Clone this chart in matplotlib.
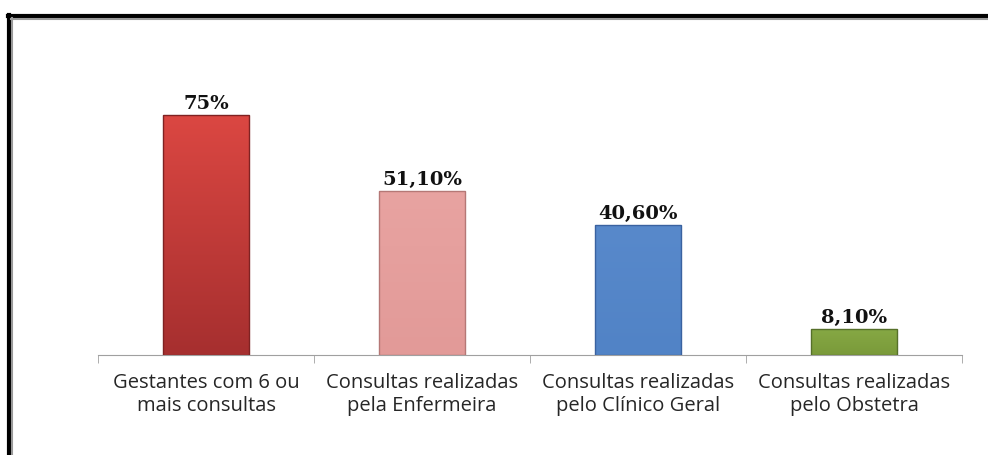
import numpy as np
import matplotlib.pyplot as plt
from matplotlib.lines import Line2D
from matplotlib.colors import LinearSegmentedColormap

categorias = ["Gestantes com 6 ou\nmais consultas",
              "Consultas realizadas\npela Enfermeira",
              "Consultas realizadas\npelo Clínico Geral",
              "Consultas realizadas\npelo Obstetra"]
valores = [75, 51.1, 40.6, 8.1]
rotulos = ["75%", "51,10%", "40,60%", "8,10%"]
cores_topo = ["#db4742", "#e8a3a1", "#5889cb", "#86a844"]
cores_base = ["#a62f2f", "#e29a98", "#5183c6", "#7a9a3a"]
bordas = ["#7f2222", "#b57876", "#3a62a0", "#56702a"]

fig = plt.figure(figsize=(9.88, 4.56), dpi=100)
ax = fig.add_axes([98 / 988, 100 / 456, 864 / 988, 256 / 456])

x = range(len(valores))
barras = ax.bar(x, valores, width=0.4, color="none", edgecolor=bordas, linewidth=1.0, zorder=3)
grad = np.linspace(0, 1, 256).reshape(-1, 1)
for b, ct, cb in zip(barras, cores_topo, cores_base):
    cmap = LinearSegmentedColormap.from_list("g", [cb, ct])
    x0, y0 = b.get_x(), b.get_y()
    im = ax.imshow(grad, cmap=cmap, aspect="auto", origin="lower",
                   extent=[x0, x0 + b.get_width(), y0, y0 + b.get_height()], zorder=2)
    im.set_clip_path(b)

for xi, v, r in zip(x, valores, rotulos):
    ax.text(xi, v + 1.0, r, ha="center", va="bottom", fontsize=14, fontweight="bold",
            family="DejaVu Serif", color="#111111")

ax.set_xlim(-0.5, 3.5)
ax.set_ylim(0, 80)
ax.set_yticks([])
for s in ["top", "right", "left"]:
    ax.spines[s].set_visible(False)
ax.spines["bottom"].set_color("#a0a0a0")
ax.set_xticks([-0.5, 0.5, 1.5, 2.5, 3.5], minor=True)
ax.tick_params(axis="x", which="minor", length=6, color="#a0a0a0", direction="out")
ax.tick_params(axis="x", which="major", length=0, pad=12)
ax.set_xticks(list(x))
ax.set_xticklabels(categorias, fontsize=14.5, family="Open Sans", color="#262626",
                   linespacing=1.2)

# moldura
fig.add_artist(Line2D([9 / 988, 9 / 988], [0, 1 - 16 / 456], color="black", lw=3,
                      transform=fig.transFigure))
fig.add_artist(Line2D([8 / 988, 1], [1 - 17 / 456, 1 - 17 / 456], color="black", lw=3,
                      transform=fig.transFigure))
fig.add_artist(Line2D([11.5 / 988, 11.5 / 988], [0, 1 - 19 / 456], color="#999999", lw=1.5,
                      transform=fig.transFigure))
fig.add_artist(Line2D([11 / 988, 1], [1 - 19.5 / 456, 1 - 19.5 / 456], color="#999999", lw=1.5,
                      transform=fig.transFigure))

fig.savefig("out.png", dpi=100)
